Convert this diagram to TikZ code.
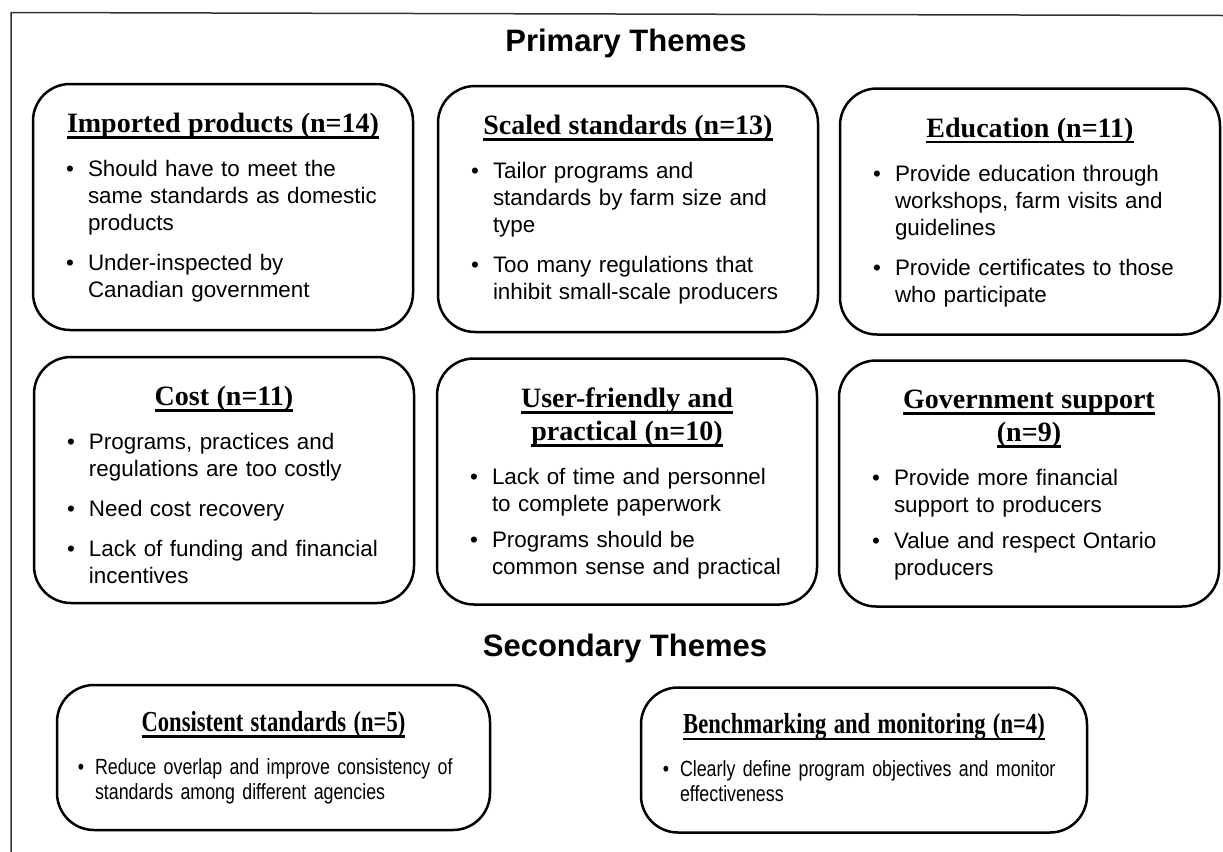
\documentclass[tikz,border=0pt]{standalone}
\usepackage{fontspec}
\setmainfont{Liberation Serif}
\setsansfont{Liberation Sans}
\newfontfamily\narrowsans[FakeStretch=0.81]{Liberation Sans}
\newfontfamily\narrowserif[FakeStretch=0.78]{Liberation Serif}
\usepackage{enumitem}
\usetikzlibrary{positioning}

% underline that cuts through the descenders
\newlength\hdwd
\newcommand{\hdline}[1]{\leavevmode\settowidth{\hdwd}{#1}\rlap{\rule[-3.2pt]{\hdwd}{1.3pt}}#1}
\newcommand{\themehead}[1]{{\centering\rmfamily\bfseries\fontsize{14}{16.5}\selectfont #1\par}\vspace{8.5pt}}
\newcommand{\minorhead}[1]{{\centering\narrowserif\bfseries\fontsize{14.5}{16}\selectfont #1\par}\vspace{9pt}}

\setlist[itemize]{label=\textbullet, topsep=0pt, partopsep=0pt, parsep=0pt,
  itemsep=6.5pt, leftmargin=14pt, labelsep=7pt}

\tikzset{
  frame/.style={line width=0.75pt, black!80},
  title/.style={font=\sffamily\bfseries\fontsize{15.5}{18}\selectfont},
  theme/.style={draw, line width=1.25pt, rounded corners=18.5pt,
    minimum width=190pt, minimum height=123pt, inner sep=0pt},
  minor/.style={theme, minimum height=72.5pt},
  txt/.style={text width=163pt, inner sep=0pt, execute at begin node=\raggedright,
    font=\sffamily\fontsize{11.2}{13.5}\selectfont},
  minortxt/.style={inner sep=0pt, execute at begin node=\raggedright,
    font=\narrowsans\fontsize{11}{12.5}\selectfont},
}

\begin{document}
\begin{tikzpicture}[x=0.5pt,y=-0.5pt]
  \useasboundingbox (0,0) rectangle (1223,852);
  \draw[frame] (11,852) -- (11,12.5) -- (1223,15.5);

  \node[title] (primary) at (626,43) {Primary Themes};
  \node[title] (secondary) at (625,648) {Secondary Themes};

  % first row
  \node[theme] (imp) at (223,207) {};
  \node[txt, below=15pt of imp.north] (impT) {\themehead{\hdline{Imported products (n=14)}}
    \begin{itemize}
      \item Should have to meet the\\same standards as domestic\\products
      \item Under-inspected by\\Canadian government
    \end{itemize}};

  \node[theme] (scaled) at (628,209) {};
  \node[txt, below=15pt of scaled.north] (scaledT) {\themehead{\hdline{Scaled standards (n=13)}}
    \begin{itemize}
      \item Tailor programs and\\standards by farm size and\\type
      \item Too many regulations that\\inhibit small-scale producers
    \end{itemize}};

  \node[theme] (edu) at (1030,211.5) {};
  \node[txt, below=15pt of edu.north] (eduT) {\themehead{\hdline{Education (n=11)}}
    \begin{itemize}
      \item Provide education through\\workshops, farm visits and\\guidelines
      \item Provide certificates to those\\who participate
    \end{itemize}};

  % second row
  \node[theme] (cost) at (224,480) {};
  \node[txt, below=15pt of cost.north] (costT) {\themehead{\hdline{Cost (n=11)}}
    \begin{itemize}
      \item Programs, practices and\\regulations are too costly
      \item Need cost recovery
      \item Lack of funding and financial\\incentives
    \end{itemize}};

  \node[theme] (user) at (627,481.5) {};
  \node[txt, below=15pt of user.north] (userT) {\themehead{\hdline{User-friendly and}\\\hdline{practical (n=10)}}
    \begin{itemize}[itemsep=4.5pt]
      \item Lack of time and personnel\\to complete paperwork
      \item Programs should be\\common sense and practical
    \end{itemize}};

  \node[theme] (gov) at (1029,483.5) {};
  \node[txt, below=15pt of gov.north] (govT) {\themehead{\hdline{Government support}\\\hdline{(n=9)}}
    \begin{itemize}[itemsep=4.5pt]
      \item Provide more financial\\support to producers
      \item Value and respect Ontario\\producers
    \end{itemize}};

  % secondary row
  \node[minor, minimum width=216.5pt] (cons) at (273.5,757.5) {};
  \node[minortxt, text width=197.5pt, below=13.5pt of cons.north] (consT) {\minorhead{\hdline{Consistent standards (n=5)}}
    \begin{itemize}[leftmargin=9.5pt, labelsep=5.5pt]
      \item Reduce overlap and improve consistency of\\standards among different agencies
    \end{itemize}};

  \node[minor, minimum width=223pt] (bench) at (864,760) {};
  \node[minortxt, text width=213pt, below=13.5pt of bench.north] (benchT) {\minorhead{\hdline{Benchmarking and monitoring (n=4)}}
    \begin{itemize}[leftmargin=14.5pt, labelsep=5.5pt]
      \item Clearly define program objectives and monitor\\effectiveness
    \end{itemize}};
\end{tikzpicture}
\end{document}
